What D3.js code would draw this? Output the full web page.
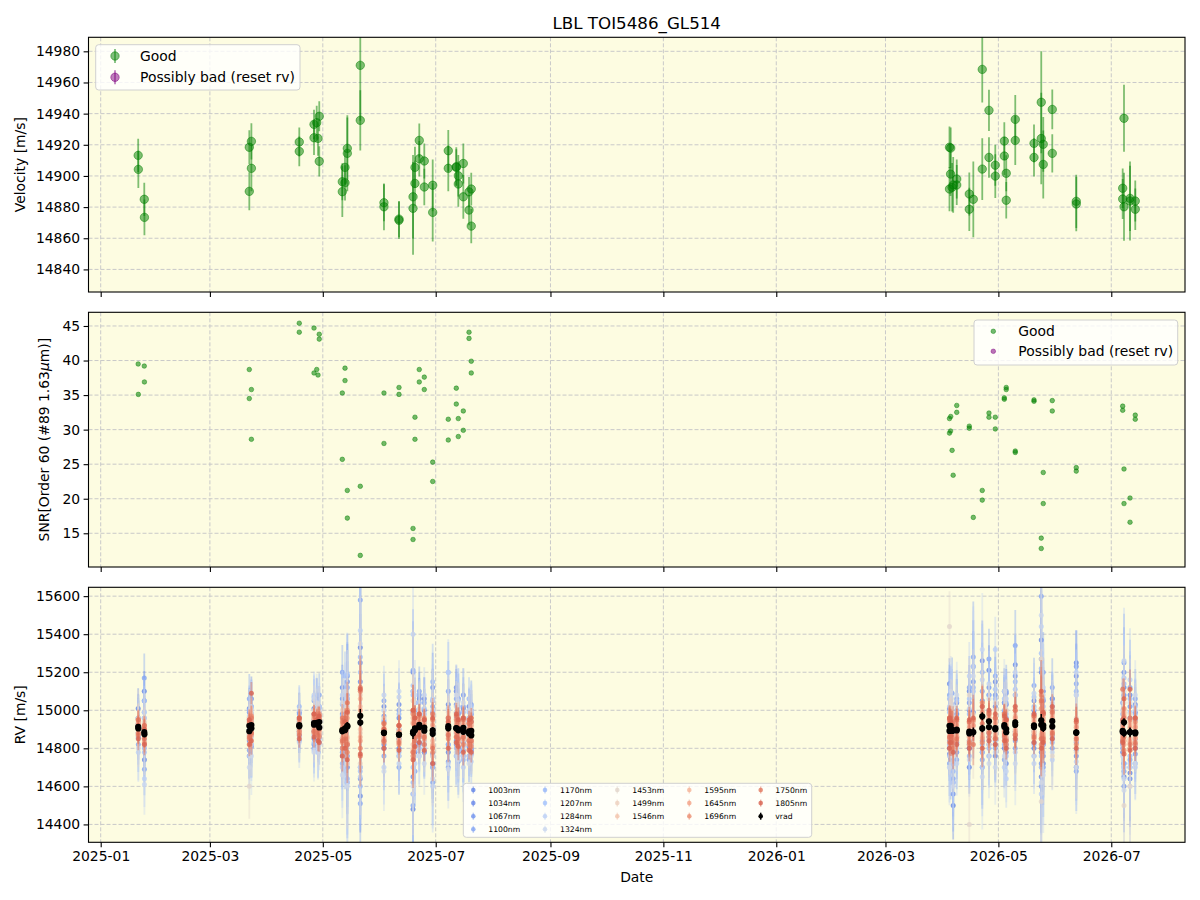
<!DOCTYPE html>
<html><head><meta charset="utf-8">
<script src="https://cdn.jsdelivr.net/npm/d3@7"></script>
<style>body{margin:0;background:#fff}svg{display:block}text{font-family:"DejaVu Sans",sans-serif;fill:#000}</style>
</head><body><svg id="chart" width="1200" height="900"></svg>
<script>
// ---------------- DATA ----------------
const chartTitle = "LBL TOI5486_GL514";
const xDomain = ["2024-12-25T09:50", "2026-08-09T19:55"];
const xTickLabels = ["2025-01","2025-03","2025-05","2025-07","2025-09","2025-11","2026-01","2026-03","2026-05","2026-07"];
const velTicks = [14840,14860,14880,14900,14920,14940,14960,14980];
const snrTicks = [15,20,25,30,35,40,45];
const rvTicks = [14400,14600,14800,15000,15200,15400,15600];
const velDomain = [14825.5, 14989.0];
const snrDomain = [10.12, 46.98];
const rvDomain = [14306, 15646.5];

const obsTimes = [
"2025-01-21T06:00","2025-01-21T08:00","2025-01-24T13:00","2025-01-24T15:00",
"2025-03-22T07:00","2025-03-22T07:00","2025-03-23T10:00","2025-03-23T10:00",
"2025-04-18T07:00","2025-04-18T07:00","2025-04-26T06:00","2025-04-26T06:00",
"2025-04-27T17:00","2025-04-28T10:00","2025-04-29T02:00","2025-04-29T02:00",
"2025-05-11T13:00","2025-05-11T13:00","2025-05-13T00:00","2025-05-13T00:00",
"2025-05-14T06:00","2025-05-14T06:00","2025-05-21T06:00","2025-05-21T06:00",
"2025-06-03T01:00","2025-06-03T01:00","2025-06-11T04:00","2025-06-11T04:00",
"2025-06-18T18:00","2025-06-18T18:00","2025-06-19T19:00","2025-06-19T19:00",
"2025-06-22T03:00","2025-06-22T03:00","2025-06-24T20:00","2025-06-24T20:00",
"2025-06-29T09:00","2025-06-29T09:00","2025-07-07T19:00","2025-07-07T19:00",
"2025-07-12T03:00","2025-07-12T03:00","2025-07-13T05:00","2025-07-13T05:00",
"2025-07-15T22:00","2025-07-15T22:00","2025-07-19T00:00","2025-07-19T00:00",
"2025-07-20T05:00","2025-07-20T05:00",
"2026-04-04T14:00","2026-04-04T14:00","2026-04-05T06:00","2026-04-05T04:00",
"2026-04-06T00:00","2026-04-06T14:00","2026-04-08T12:00","2026-04-08T12:00",
"2026-04-15T07:00","2026-04-15T07:00","2026-04-17T11:00","2026-04-22T07:00",
"2026-04-22T07:00","2026-04-25T22:00","2026-04-25T22:00","2026-04-29T08:00",
"2026-04-29T08:00","2026-05-04T05:00","2026-05-04T05:00","2026-05-05T06:00",
"2026-05-05T06:00","2026-05-10T03:00","2026-05-10T03:00","2026-05-20T06:00",
"2026-05-20T06:00","2026-05-24T04:00","2026-05-24T04:00","2026-05-25T06:00",
"2026-05-25T06:00","2026-05-30T03:00","2026-05-30T03:00","2026-06-12T02:00",
"2026-06-12T02:00","2026-07-07T21:00","2026-07-07T04:00","2026-07-07T04:00",
"2026-07-07T21:00","2026-07-11T03:00","2026-07-11T03:00","2026-07-13T23:00",
"2026-07-13T23:00"];

const velocity = [
14913.2,14904.2,14885.0,14873.4,14918.4,14890.1,14922.2,14904.9,14921.8,14915.8,
14933.1,14924.5,14934.2,14924.1,14938.3,14909.4,14896.3,14889.9,14905.5,14895.6,
14917.7,14914.5,14971.0,14935.7,14882.8,14880.2,14872.3,14871.5,14886.6,14879.2,
14905.5,14895.2,14922.8,14911.0,14909.6,14892.9,14894.0,14876.6,14916.2,14904.9,
14905.5,14905.9,14900.1,14894.8,14908.0,14886.6,14889.8,14878.1,14891.6,14867.8,
14918.4,14891.6,14917.9,14901.2,14892.7,14894.2,14898.0,14894.2,14888.4,14878.6,
14885.0,14968.4,14904.4,14942.1,14911.9,14906.9,14899.9,14922.4,14912.8,14901.7,
14884.4,14936.3,14922.8,14920.9,14911.9,14947.3,14924.0,14920.3,14907.4,14942.7,
14914.5,14883.7,14882.0,14937.0,14892.1,14885.2,14880.2,14885.6,14883.9,14883.9,
14878.6];

const velocityErr = [
10.6,12.0,10.7,11.4,10.9,12.2,11.7,14.7,9.3,9.5,
9.4,11.0,10.9,11.1,9.6,9.7,11.9,16.3,10.8,11.3,
19.8,24.4,35.6,19.3,11.9,15.0,11.6,12.0,26.8,29.8,
13.2,14.7,10.9,11.4,11.2,11.7,16.6,18.7,13.3,14.7,
11.7,12.5,13.3,14.5,12.8,14.0,9.5,9.7,10.5,11.0,
13.3,14.2,13.2,14.1,15.6,17.9,12.5,12.9,13.8,13.9,
24.3,21.2,19.8,13.2,13.0,13.2,14.0,12.1,12.2,11.6,
11.7,15.6,15.7,12.2,12.3,32.8,29.4,17.6,21.8,12.8,
12.3,17.1,17.5,21.5,12.6,12.8,21.8,20.9,25.3,13.1,
13.3];

const snr = [
39.5,35.1,39.2,36.9,38.7,34.5,35.8,28.6,45.4,44.1,
44.7,38.2,38.7,37.9,43.8,43.1,35.3,25.7,38.9,37.1,
21.2,17.2,11.8,21.8,35.3,28.0,36.1,35.1,15.7,14.1,
31.8,28.6,38.7,36.9,37.6,35.8,25.3,22.5,31.5,28.5,
36.0,33.7,31.6,29.0,32.7,29.9,44.1,43.2,39.9,38.2,
31.6,29.5,31.9,29.8,27.0,23.4,33.5,32.5,30.5,30.2,
17.3,19.8,21.2,31.8,32.4,31.8,30.1,34.6,34.4,36.1,
35.8,26.9,26.7,34.3,34.1,12.8,14.3,23.8,19.3,32.7,
34.2,24.5,24.0,24.3,33.4,32.8,19.3,20.1,16.6,32.1,
31.5];

const wavelengths = ["1003nm","1034nm","1067nm","1100nm","1170nm","1207nm","1284nm","1324nm",
  "1453nm","1499nm","1546nm","1595nm","1645nm","1696nm","1750nm","1805nm"];

const rv1003 = [15010,14860,15100,14740,15010,14760,14980,14870,14960,14890,15010,14850,14990,14880,14960,14870,15120,14800,14980,14840,15150,14700,15330,14550,15020,14820,14960,14800,15200,14480,14990,14780,15060,14860,15000,14820,15050,14700,15030,14780,15100,14840,14980,14800,15010,14760,14960,14810,14980,14790,
15140,14800,15000,14750,14860,14500,14980,14830,15100,14700,15230,15050,14780,15210,14820,15150,14760,14990,14800,15030,14720,15240,14870,15000,14800,15370,14650,15050,14720,15020,14850,15250,14700,15120,14880,14780,14650,15080,14670,14990,14800];
const rv1034 = [14960,14930,15050,14820,14950,14840,15060,14900,14940,14870,14980,14890,15060,14850,14990,14900,14980,14760,15050,14870,15060,14820,15150,14700,14940,14800,15030,14850,15100,14650,15040,14850,14970,14830,15060,14900,14990,14720,14960,14820,15120,14880,15060,14850,14960,14830,15020,14840,15000,14820,
15010,14770,15100,14840,14900,14620,15040,14860,15000,14800,14990,15260,14840,15080,14880,15020,14850,15100,14860,14960,14780,15080,14890,15050,14830,15200,14780,15100,14760,15060,14870,15180,14760,15080,14930,14820,14720,14960,14640,15030,14850];
const rv1067 = [14880,14950,14960,14850,14990,14870,14950,14810,14990,14880,14950,14820,14970,14890,15020,14860,15060,14850,14930,14780,15180,14760,15250,14640,14970,14840,14900,14760,14990,14560,14950,14830,15080,14880,14940,14780,15120,14770,14870,14730,15030,14820,14930,14780,15080,14880,14940,14760,14940,14770,
14950,14840,15060,14880,14960,14560,14940,14780,15040,14840,15150,14900,14700,15120,14860,15080,14820,15040,14880,15090,14850,15180,14840,14980,14870,15270,14720,14980,14820,15060,14900,15230,14830,15200,14840,14940,14600,15020,14700,14950,14770];
const rv1100 = [14960,14820,15170,14690,15060,14790,15020,14880,14980,14840,15050,14800,15040,14860,15080,14830,15200,14780,14900,14720,15120,14620,15580,14510,15050,14760,15000,14700,15210,14500,14920,14680,15100,14820,15040,14780,15020,14620,15100,14700,15060,14760,14990,14730,15020,14790,14920,14740,15030,14800,
15080,14720,14980,14700,15090,14640,15060,14740,15120,14800,15280,15100,14740,15270,14760,15180,14800,15040,14740,15100,14820,15340,14800,15130,14760,15600,14600,15200,14700,15120,14800,15140,14680,15250,14800,15040,14680,15120,14740,15060,14720];
const rv1170 = [14920,14860,14990,14800,15000,14850,14960,14820,15020,14900,15070,14870,14930,14780,15010,14880,15030,14720,15180,14850,15080,14640,15280,14600,14950,14800,14980,14850,15080,14620,15000,14790,15040,14860,14980,14840,15150,14760,15200,14820,14960,14800,15060,14860,14990,14740,15060,14860,14980,14790,
15060,14820,14980,14800,15030,14680,15000,14820,14980,14760,15120,15200,14820,15080,14800,15060,14840,15000,14820,15040,14800,15150,14880,15020,14820,15220,14700,15060,14820,15000,14830,15100,14790,15140,14870,14980,14720,15060,14760,14980,14800];
const rv1207 = [14900,14930,15050,14780,14960,14900,15020,14860,14950,14880,14940,14830,15010,14910,14960,14850,14970,14800,15010,14800,15190,14720,15200,14680,15000,14850,14880,14780,15130,14700,14970,14820,14980,14800,15010,14870,15060,14700,15010,14880,14990,14830,15020,14790,14950,14810,14990,14820,15020,14840,
14990,14760,15040,14860,14960,14720,15050,14880,15060,14820,15100,15020,14780,15000,14840,15110,14880,15060,14900,14980,14760,15110,14850,15070,14890,15300,14760,15020,14780,14990,14860,15080,14840,15170,14900,14920,14700,14990,14720,15020,14820];
const rv1284 = [14850,14780,14990,14640,14970,14760,15010,14820,15000,14860,15080,14790,14980,14780,15020,14870,15080,14700,14960,14760,15060,14620,15420,14650,15080,14700,15070,14720,15400,14560,15040,14720,15000,14760,15080,14800,15000,14600,15200,14720,15020,14760,15050,14760,14960,14700,15000,14760,14990,14730,
15020,14700,15070,14760,14980,14620,14960,14720,15180,14820,15230,15160,14700,15140,14760,15320,14780,14960,14700,15060,14640,15200,14780,15090,14720,15440,14560,15120,14680,15040,14740,15200,14730,15260,14820,14950,14640,15160,14600,15000,14700];
const rv1324 = [14930,14800,14960,14610,14880,14700,14990,14760,14950,14830,15060,14780,15040,14800,14990,14820,15040,14660,15100,14800,15020,14600,15350,14700,15000,14680,15100,14760,15100,14600,15080,14760,15010,14760,14980,14720,15050,14640,15000,14690,15080,14780,14960,14740,15040,14760,14960,14720,15000,14760,
14960,14700,15100,14760,15020,14600,15080,14800,15010,14740,15180,15320,14650,15060,14720,15040,14700,15100,14760,15000,14680,15080,14720,15010,14760,15500,14620,15080,14660,15020,14780,15080,14700,15100,14760,15000,14580,15040,14700,15080,14720];
const rv1453 = [14960,14870,14940,14820,14960,14600,14980,14860,14960,14880,15000,14880,14960,14860,14990,14880,15000,14840,14960,14860,15040,14720,15100,14720,14960,14840,14920,14860,15050,14760,14980,14800,15000,14880,14960,14840,14980,14760,14990,14860,14990,14870,14960,14840,14960,14840,14950,14830,14960,14820,
15440,14860,14980,14880,14940,14820,14960,14860,15080,14400,14980,15000,14860,14960,14820,15000,14860,14980,14870,15000,14880,15020,14880,14960,14860,15270,14520,15000,14860,14980,14760,14960,14780,15040,14880,14940,14500,14980,14600,14960,14860];
const rv1499 = [14950,14900,14930,14860,14960,14880,14970,14900,14950,14910,14980,14900,14960,14910,14970,14890,14950,14860,14960,14880,15010,14850,15080,14880,14920,14860,14910,14840,14980,14800,14960,14880,14970,14900,14950,14870,14960,14840,14970,14890,14950,14900,14940,14880,14950,14870,14930,14860,14930,14850,
14960,14880,14960,14890,14930,14850,14950,14880,14940,14860,14950,15040,14880,14990,14900,14960,14880,14970,14900,14950,14860,14990,14900,14970,14890,15060,14880,14970,14880,14990,14900,14930,14860,15000,14880,14930,14840,14940,14850,14930,14860];
const rv1546 = [14880,14930,14900,14850,14940,14870,14950,14880,14940,14890,14960,14900,14950,14890,14960,14880,14920,14840,14940,14870,14980,14860,15020,14900,14900,14850,14890,14850,14940,14820,14940,14870,14960,14890,14940,14860,14930,14840,14950,14880,14940,14890,14930,14870,14940,14860,14910,14850,14920,14840,
14940,14870,14940,14880,14910,14860,14930,14880,14920,14860,14920,15000,14870,14970,14890,14940,14880,14950,14890,14930,14860,14960,14900,14950,14890,15010,14860,14950,14880,14970,14890,14910,14860,14980,14880,14910,14840,14920,14850,14910,14860];
const rv1595 = [14930,14880,14910,14860,14950,14860,14960,14890,14930,14900,14960,14910,14950,14900,14960,14890,14930,14850,14920,14870,14990,14830,15060,14860,14910,14860,14880,14860,14960,14790,14950,14870,14950,14890,14930,14870,14950,14820,14940,14880,14930,14890,14920,14860,14930,14860,14910,14850,14920,14840,
14950,14860,14930,14880,14920,14850,14940,14870,14930,14860,14940,15020,14860,14980,14890,14950,14870,14960,14890,14940,14850,14970,14890,14960,14880,15040,14870,14960,14870,14980,14890,14920,14850,14990,14870,14920,14840,14930,14840,14920,14860];
const rv1645 = [14900,14940,14880,14900,14920,14880,14940,14870,14920,14880,14950,14890,14940,14880,14950,14870,14910,14830,14930,14860,14960,14820,15000,14840,14900,14840,14890,14840,14930,14780,14930,14860,14940,14880,14920,14850,14920,14810,14930,14870,14920,14880,14910,14850,14920,14850,14900,14840,14900,14830,
14930,14850,14920,14870,14900,14840,14920,14860,14910,14840,14920,14990,14850,14960,14880,14930,14860,14940,14880,14920,14840,14960,14880,14940,14870,15010,14850,14940,14860,14960,14880,14910,14840,14970,14860,14900,14820,14910,14830,14910,14850];
const rv1696 = [14950,14880,14920,14830,14940,14850,14970,14880,14950,14890,14970,14880,14960,14870,14980,14860,14940,14800,14950,14840,15000,14780,15100,14800,14930,14830,14920,14820,14980,14760,14960,14840,14970,14860,14960,14820,14950,14780,14960,14850,14950,14860,14940,14830,14960,14820,14930,14820,14940,14810,
14960,14830,14950,14850,14930,14800,14950,14840,14940,14820,14950,15040,14830,14990,14860,14960,14850,14980,14860,14950,14820,15000,14870,14970,14850,15080,14820,14980,14840,15000,14870,14940,14820,15010,14850,14940,14790,14950,14800,14940,14820];
const rv1750 = [14870,14950,14850,14920,14860,14930,14880,14960,14870,14960,14890,14980,14880,14970,14900,14950,14840,14960,14850,14960,14820,15040,14760,15120,14840,14930,14830,14920,14780,15000,14860,14960,14870,14980,14860,14950,14800,14980,14870,14960,14860,14970,14850,14950,14860,14950,14840,14930,14840,14940,
14860,14950,14870,14960,14830,14940,14850,14950,14830,14940,14820,14930,14960,14880,14980,14850,14960,14870,14980,14840,14950,14870,15000,14860,14970,14850,15050,14850,14980,14880,14990,14850,14940,14860,15110,14840,14960,14820,14960,14830,14960];
const rv1805 = [14920,14850,14900,14820,14950,14820,15090,14840,14960,14850,14980,14860,14950,14840,14970,14830,14900,14760,14940,14800,14990,14740,15110,14770,14900,14800,14920,14790,15000,14740,14960,14810,14980,14830,14950,14790,14960,14720,14940,14800,14980,14830,14950,14810,14960,14780,14950,14790,14960,14780,
14960,14800,14940,14830,14920,14780,14960,14820,14950,14800,14960,15020,14800,15000,14840,14980,14820,14970,14840,14950,14800,15020,14850,14980,14830,15100,14800,14990,14830,15020,14850,14950,14800,15060,14830,14950,14770,15110,14790,14960,14800];
const waveSeries = [rv1003,rv1034,rv1067,rv1100,rv1170,rv1207,rv1284,rv1324,
  rv1453,rv1499,rv1546,rv1595,rv1645,rv1696,rv1750,rv1805];
// per-wavelength error relative to the vrad error
const waveErrFactor = [10,10,11,12,12,11,13,14,14,8,6,5,5,4.5,4.5,5];

// ---------------- STYLE ----------------
const waveColors = ["#6384e6","#6a8aea","#7395ee","#82a4f3","#98b8f9","#a5c3fb","#bbd0f5","#c9d7ef",
  "#e2d6cc","#eed1bf","#f3c4ac","#f5b498","#f2a387","#eb8e72","#e27a63","#d86350"];
const bg = "#fdfce1";
const gridColor = "#c9c9c9";
const good = "#008000";

// ---------------- DRAW ----------------
const svg = d3.select("#chart");
const L = 88.5, R = 1185;
const panels = [{top:37.3,bottom:292},{top:312.3,bottom:567},{top:587.3,bottom:842.3}];
const parseT = d3.utcParse("%Y-%m-%dT%H:%M");
const parseM = d3.utcParse("%Y-%m");
const x = d3.scaleUtc().domain(xDomain.map(parseT)).range([L,R]);
const tDates = obsTimes.map(parseT);
const xTickDates = xTickLabels.map(parseM);

svg.append("rect").attr("width",1200).attr("height",900).attr("fill","#fff");

function makePanel(i, domain, ticks, showX){
  const p = panels[i];
  const y = d3.scaleLinear().domain(domain).range([p.bottom,p.top]);
  const g = svg.append("g");
  g.append("rect").attr("x",L).attr("y",p.top).attr("width",R-L).attr("height",p.bottom-p.top).attr("fill",bg);
  const cid = "clip"+i;
  svg.append("clipPath").attr("id",cid).append("rect").attr("x",L).attr("y",p.top).attr("width",R-L).attr("height",p.bottom-p.top);
  g.append("g").selectAll("line").data(xTickDates).join("line")
    .attr("x1",d=>x(d)).attr("x2",d=>x(d)).attr("y1",p.top).attr("y2",p.bottom)
    .attr("stroke",gridColor).attr("stroke-width",1).attr("stroke-dasharray","4,2");
  g.append("g").selectAll("line").data(ticks).join("line")
    .attr("x1",L).attr("x2",R).attr("y1",d=>y(d)).attr("y2",d=>y(d))
    .attr("stroke",gridColor).attr("stroke-width",1).attr("stroke-dasharray","4,2");
  const plot = g.append("g").attr("clip-path",`url(#${cid})`);
  const xa = d3.axisBottom(x).tickValues(xTickDates).tickSize(4.9).tickPadding(3.5)
    .tickFormat(showX ? d3.utcFormat("%Y-%m") : ()=> "");
  const xg = g.append("g").attr("transform",`translate(0,${p.bottom})`).call(xa);
  const ya = d3.axisLeft(y).tickValues(ticks).tickSize(4.9).tickPadding(3.5).tickFormat(d3.format("d"));
  const yg = g.append("g").attr("transform",`translate(${L},0)`).call(ya);
  [xg,yg].forEach(a=>{
    a.select(".domain").remove();
    a.selectAll(".tick line").attr("stroke","#000").attr("stroke-width",1.1);
    a.selectAll(".tick text").attr("font-size","13.9px").attr("font-family","DejaVu Sans").attr("fill","#000");
  });
  const frame = () => g.append("rect").attr("x",L).attr("y",p.top).attr("width",R-L).attr("height",p.bottom-p.top)
    .attr("fill","none").attr("stroke","#000").attr("stroke-width",1.1);
  return {y, plot, g, frame};
}

svg.append("text").attr("x",(L+R)/2).attr("y",29).attr("text-anchor","middle")
  .attr("font-size","16.7px").text(chartTitle);

// ---- Panel 1: velocity
const p1 = makePanel(0, velDomain, velTicks, false);
p1.plot.append("g").selectAll("line").data(velocity).join("line")
  .attr("x1",(d,i)=>x(tDates[i])).attr("x2",(d,i)=>x(tDates[i]))
  .attr("y1",(d,i)=>p1.y(d-velocityErr[i])).attr("y2",(d,i)=>p1.y(d+velocityErr[i]))
  .attr("stroke",good).attr("stroke-opacity",0.5).attr("stroke-width",1.8);
p1.plot.append("g").selectAll("circle").data(velocity).join("circle")
  .attr("cx",(d,i)=>x(tDates[i])).attr("cy",d=>p1.y(d)).attr("r",4.2)
  .attr("fill",good).attr("fill-opacity",0.5).attr("stroke",good).attr("stroke-opacity",0.5).attr("stroke-width",1);
p1.frame();

// ---- Panel 2: SNR
const p2 = makePanel(1, snrDomain, snrTicks, false);
p2.plot.append("g").selectAll("circle").data(snr).join("circle")
  .attr("cx",(d,i)=>x(tDates[i])).attr("cy",d=>p2.y(d)).attr("r",2.3)
  .attr("fill",good).attr("fill-opacity",0.55).attr("stroke",good).attr("stroke-opacity",0.55).attr("stroke-width",0.8);
p2.frame();

// ---- Panel 3: per-wavelength RV
const p3 = makePanel(2, rvDomain, rvTicks, true);
waveSeries.forEach((vals,w)=>{
  const gg = p3.plot.append("g");
  gg.selectAll("line").data(vals).join("line")
    .attr("x1",(d,i)=>x(tDates[i])).attr("x2",(d,i)=>x(tDates[i]))
    .attr("y1",(d,i)=>p3.y(d-velocityErr[i]*waveErrFactor[w])).attr("y2",(d,i)=>p3.y(d+velocityErr[i]*waveErrFactor[w]))
    .attr("stroke",waveColors[w]).attr("stroke-opacity",0.4).attr("stroke-width",1.8);
  gg.selectAll("circle").data(vals).join("circle")
    .attr("cx",(d,i)=>x(tDates[i])).attr("cy",d=>p3.y(d)).attr("r",2.5)
    .attr("fill",waveColors[w]).attr("fill-opacity",0.8);
});
const gv = p3.plot.append("g");
gv.selectAll("line").data(velocity).join("line")
  .attr("x1",(d,i)=>x(tDates[i])).attr("x2",(d,i)=>x(tDates[i]))
  .attr("y1",(d,i)=>p3.y(d-velocityErr[i])).attr("y2",(d,i)=>p3.y(d+velocityErr[i]))
  .attr("stroke","#000").attr("stroke-width",1.5);
gv.selectAll("circle").data(velocity).join("circle")
  .attr("cx",(d,i)=>x(tDates[i])).attr("cy",d=>p3.y(d)).attr("r",3.1).attr("fill","#000");
p3.frame();

function yLabel(txt, xx, yy){
  return svg.append("text").attr("transform",`translate(${xx},${yy}) rotate(-90)`)
    .attr("text-anchor","middle").attr("font-size","13.9px").text(txt);
}
yLabel("Velocity [m/s]", 25, (panels[0].top+panels[0].bottom)/2);
const snrLab = yLabel("", 49, (panels[1].top+panels[1].bottom)/2);
snrLab.append("tspan").text("SNR[Order 60 (#89 1.63");
snrLab.append("tspan").attr("font-style","italic").text("μ");
snrLab.append("tspan").text("m)]");
yLabel("RV [m/s]", 25, (panels[2].top+panels[2].bottom)/2);
svg.append("text").attr("x",(L+R)/2).attr("y",882).attr("text-anchor","middle").attr("font-size","13.9px").text("Date");

function legendBox(x0,y0,w,h){
  svg.append("rect").attr("x",x0).attr("y",y0).attr("width",w).attr("height",h).attr("rx",3)
    .attr("fill","#fff").attr("fill-opacity",0.8).attr("stroke","#d0d0d0").attr("stroke-width",1);
}
legendBox(95.7,44.7,204.3,45.3);
[["Good",good],["Possibly bad (reset rv)","#800080"]].forEach((e,k)=>{
  const yy = 56 + k*21.3;
  svg.append("line").attr("x1",115).attr("x2",115).attr("y1",yy-7).attr("y2",yy+7)
    .attr("stroke",e[1]).attr("stroke-opacity",0.5).attr("stroke-width",1.8);
  svg.append("circle").attr("cx",115).attr("cy",yy).attr("r",4.2).attr("fill",e[1]).attr("fill-opacity",0.5)
    .attr("stroke",e[1]).attr("stroke-opacity",0.5);
  svg.append("text").attr("x",140).attr("y",yy+5).attr("font-size","13.9px").text(e[0]);
});
legendBox(974,320,203.7,45);
[["Good",good],["Possibly bad (reset rv)","#800080"]].forEach((e,k)=>{
  const yy = 331.3 + k*20;
  svg.append("circle").attr("cx",993.3).attr("cy",yy).attr("r",2.3).attr("fill",e[1]).attr("fill-opacity",0.55)
    .attr("stroke",e[1]).attr("stroke-opacity",0.55).attr("stroke-width",0.8);
  svg.append("text").attr("x",1018.3).attr("y",yy+5).attr("font-size","13.9px").text(e[0]);
});
legendBox(463.3,783.3,348.4,54);
const legEntries = wavelengths.map((w,k)=>({label:w,color:waveColors[k]})).concat([{label:"vrad",color:"#000"}]);
const colSizes = [4,4,3,3,3];
const colMarkX = [473.3,545,617.3,689.3,760.7];
const colTextX = [488.3,560,632.3,704.3,775.3];
let idx = 0;
colSizes.forEach((n,c)=>{
  for(let r=0;r<n;r++){
    const e = legEntries[idx++];
    const yy = 790 + r*13.1;
    svg.append("line").attr("x1",colMarkX[c]).attr("x2",colMarkX[c]).attr("y1",yy-3.5).attr("y2",yy+3.5)
      .attr("stroke",e.color).attr("stroke-opacity",e.label==="vrad"?1:0.5).attr("stroke-width",1.5);
    svg.append("circle").attr("cx",colMarkX[c]).attr("cy",yy).attr("r",2.3).attr("fill",e.color)
      .attr("fill-opacity",e.label==="vrad"?1:0.8);
    svg.append("text").attr("x",colTextX[c]).attr("y",yy+2.8).attr("font-size","7.7px").text(e.label);
  }
});
</script></body></html>
